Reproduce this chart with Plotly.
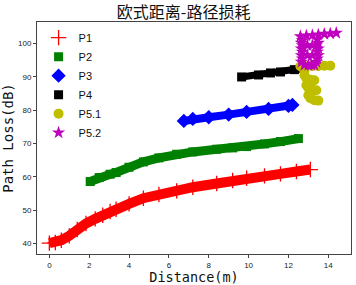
import plotly.graph_objects as go

# ---- data ----
p1_x = [0.0, 0.3, 0.6, 1.0, 1.4, 1.84, 2.3, 2.68, 3.05, 3.35, 4.0, 4.72, 5.5, 6.39, 7.2, 8.4, 9.2, 9.9, 10.8, 11.6, 12.4, 13.1]
p1_y = [40.1, 40.3, 41.0, 42.3, 44.2, 46.0, 47.4, 48.5, 49.6, 50.3, 51.9, 53.6, 54.7, 55.8, 56.9, 58.0, 58.9, 59.6, 60.3, 60.9, 61.6, 62.2]

p2_x = [2.05, 2.5, 3.05, 3.35, 4.0, 4.72, 5.5, 6.39, 7.2, 8.4, 9.2, 9.9, 10.8, 11.6, 12.5]
p2_y = [58.6, 59.8, 60.8, 61.3, 62.9, 64.5, 65.7, 66.8, 67.5, 68.3, 68.7, 69.1, 69.9, 70.6, 71.5]

p3_x = [6.75, 7.2, 8.0, 9.0, 9.9, 11.0, 12.0, 12.2]
p3_y = [76.8, 77.4, 77.9, 78.7, 79.5, 80.4, 81.3, 81.6]

p4_x = [9.65, 10.5, 11.1, 11.6, 12.3, 12.7]
p4_y = [90.0, 90.6, 91.2, 91.5, 92.2, 92.6]

p51_x = [12.6, 12.9, 13.2, 13.5, 13.8, 14.1, 12.8, 12.8, 12.9, 13.1, 13.3, 13.0, 12.9, 13.0, 13.2, 13.4, 13.1, 13.0, 13.1, 13.3, 13.5]
p51_y = [93.2, 93.2, 93.3, 93.3, 93.4, 93.4, 91.8, 90.5, 89.6, 89.2, 89.0, 88.2, 87.5, 86.7, 86.2, 86.0, 85.2, 84.5, 83.6, 83.0, 82.9]

p52_x = [12.6, 12.9, 13.2, 13.5, 13.8, 14.1, 14.4,
         12.7, 12.65, 12.7, 12.65, 12.7, 12.65, 12.7, 12.65, 12.8,
         13.45, 13.5, 13.4, 13.5, 13.45, 13.5, 13.45, 13.4, 13.3,
         12.95, 13.2, 12.95, 13.2, 13.0, 13.15]
p52_y = [102.2, 102.4, 102.5, 102.7, 102.9, 103.0, 103.2,
         101.0, 100.2, 99.5, 98.5, 97.5, 96.5, 95.5, 94.5, 93.6,
         101.2, 100.2, 99.5, 98.5, 97.5, 96.5, 95.5, 94.5, 93.6,
         99.5, 99.5, 96.5, 96.5, 93.6, 93.6]

x_ticks = [0, 2, 4, 6, 8, 10, 12, 14]
y_ticks = [40, 50, 60, 70, 80, 90, 100]

fig = go.Figure()

# continuous bands (dense marker ribbons in the original)
bands = [
    (p1_x, p1_y, "#ff0000", 10),
    (p2_x, p2_y, "#008000", 9),
    (p3_x, p3_y, "#0000ff", 8),
    (p4_x, p4_y, "#000000", 7),
]
markers = [
    ("P1", p1_x, p1_y, "#ff0000", "cross-thin", 11),
    ("P2", p2_x, p2_y, "#008000", "square", 9),
    ("P3", p3_x, p3_y, "#0000ff", "diamond", 11),
    ("P4", p4_x, p4_y, "#000000", "square", 9),
]
for (bx, by, c, w), (name, mx, my, mc, sym, sz) in zip(bands, markers):
    fig.add_trace(go.Scatter(x=bx, y=by, mode="lines", line=dict(color=c, width=w),
                             showlegend=False, hoverinfo="skip"))
    fig.add_trace(go.Scatter(x=mx, y=my, mode="markers", name=name,
                             marker=dict(symbol=sym, size=sz, color=mc,
                                         line=dict(color=mc, width=1.3 if sym == "cross-thin" else 0))))

fig.add_trace(go.Scatter(x=p51_x, y=p51_y, mode="markers", name="P5.1",
                         marker=dict(symbol="circle", size=10, color="#bfbf00")))
fig.add_trace(go.Scatter(x=p52_x, y=p52_y, mode="markers", name="P5.2",
                         marker=dict(symbol="star", size=10, color="#bf00bf")))

axis_common = dict(showgrid=False, zeroline=False, showline=True, mirror=True,
                   linecolor="#444", linewidth=1, ticks="outside", ticklen=3,
                   tickcolor="#444", automargin=False,
                   tickfont=dict(family="Liberation Sans", size=8, color="#222"))

fig.update_layout(
    width=356, height=285,
    margin=dict(l=37, r=5, t=22, b=31),
    paper_bgcolor="white", plot_bgcolor="white",
    title=dict(text="欧式距离-路径损耗", x=0.467, xref="paper", xanchor="center",
               y=0.957, yref="container", yanchor="middle",
               font=dict(family="Noto Sans CJK SC", size=16, color="#111")),
    xaxis=dict(range=[-0.62, 15.14], tickvals=x_ticks,
               title=dict(text="Distance(m)", standoff=0,
                          font=dict(family="DejaVu Sans Mono", size=13.5, color="#111")),
               **axis_common),
    yaxis=dict(range=[36.85, 106.5], tickvals=y_ticks,
               title=dict(text="Path Loss(dB)", standoff=2,
                          font=dict(family="DejaVu Sans Mono", size=14, color="#111")),
               **axis_common),
    legend=dict(x=0.005, y=0.995, xanchor="left", yanchor="top",
                bgcolor="rgba(0,0,0,0)", borderwidth=0,
                font=dict(family="Liberation Sans", size=11, color="#111")),
    showlegend=True,
)

fig.write_html("out.html", config={"displayModeBar": False},
               post_script="document.body.style.margin='0';document.body.style.overflow='hidden';")
